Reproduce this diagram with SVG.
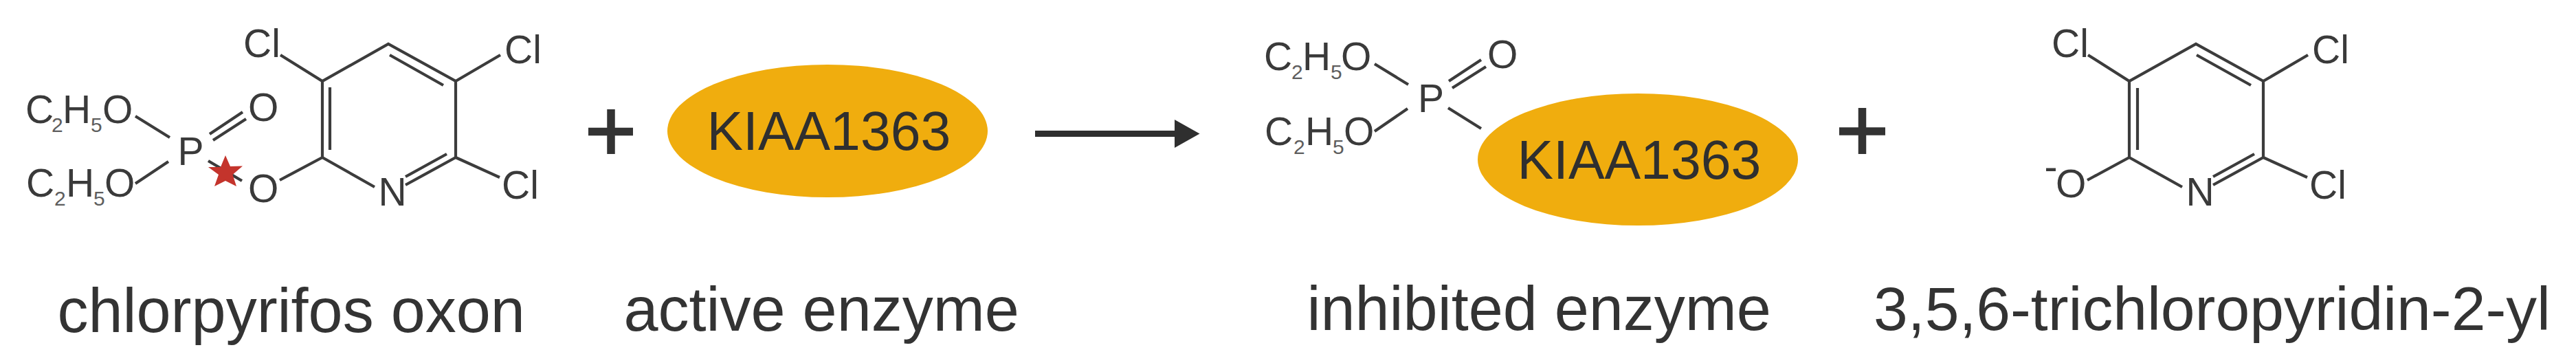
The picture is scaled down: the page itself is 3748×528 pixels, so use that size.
<svg xmlns="http://www.w3.org/2000/svg" width="3748" height="528" viewBox="0 0 3748 528">
<style>
text{font-family:"Liberation Sans",Arial,sans-serif;fill:#333}
.cap{font-size:90px}
.at{font-size:57px;fill:#3a3a3a}
.sub{font-size:30px;fill:#5e5e5e}
.enz{font-size:78.8px;fill:#2f2f2f}
.b{stroke:#3c3c3c;stroke-width:4.2;fill:none;stroke-linecap:butt;stroke-linejoin:miter}
.e{fill:#f0ad0e}
.plus{stroke:#333;stroke-width:11.5;fill:none}
</style>
<defs>
<marker id="head" markerUnits="userSpaceOnUse" markerWidth="37" markerHeight="42" refX="0" refY="21" orient="auto"><path d="M0 0.5L36.5 21L0 41.5Z" fill="#2f2f2f"/></marker>
</defs>
<rect width="3748" height="528" fill="#fff"/>
<g id="connectors">
<line x1="1506" y1="194.5" x2="1709" y2="194.5" stroke="#2f2f2f" stroke-width="9" marker-end="url(#head)"/>
</g>
<g id="chlorpyrifos-oxon">
<path class="b" d="M408 80L469 118L565 64L663 118V229M663 118L728 80M663 229L727 258M663 229L590 269M650 224L590 257M567 80L645 124M469 118V229M480 127V218M469 229L545 272M469 229L407 262M197 169L247 200M197 267L245 235M305 195L353 163M310 204L358 173M303 234L352 263"/>
<text class="at" x="354" y="83">Cl</text>
<text class="at" x="734" y="92">Cl</text>
<text class="at" x="730" y="289">Cl</text>
<text class="at" x="550.5" y="299">N</text>
<text class="at" x="258.5" y="240">P</text>
<text class="at" x="361" y="176">O</text>
<text class="at" x="361" y="294">O</text>
<text class="at" x="37" y="179">C</text><text class="sub" x="75" y="192">2</text><text class="at" x="91" y="179">H</text><text class="sub" x="132" y="192">5</text><text class="at" x="149" y="179">O</text>
<text class="at" x="38" y="286">C</text><text class="sub" x="79" y="299">2</text><text class="at" x="96" y="286">H</text><text class="sub" x="136" y="299">5</text><text class="at" x="152" y="286">O</text>
<path d="M328 226L335 242L353 241.5L338.5 254L344 271L328 263L312 271L318 254L303 243L321 243Z" fill="#c4342c"/>
<text class="cap" x="83.5" y="483">chlorpyrifos oxon</text>
</g>
<g id="plus-1"><path class="plus" d="M856 191.5H921M889 159V224"/></g>
<g id="active-enzyme">
<ellipse class="e" cx="1204" cy="190.5" rx="233" ry="96.5"/>
<text class="enz" x="1028.5" y="218">KIAA1363</text>
<text class="cap" x="907.5" y="481">active enzyme</text>
</g>
<g id="inhibited-enzyme">
<path class="b" d="M2000 93L2049 123M2000 191L2048 158M2107 157L2155 187M2108 118L2155 87M2113 128L2162 97"/>
<text class="at" x="2063" y="163">P</text>
<text class="at" x="2164" y="99">O</text>
<text class="at" x="1839" y="102">C</text><text class="sub" x="1879" y="115">2</text><text class="at" x="1895" y="102">H</text><text class="sub" x="1936" y="115">5</text><text class="at" x="1951" y="102">O</text>
<text class="at" x="1840" y="211">C</text><text class="sub" x="1882" y="224">2</text><text class="at" x="1899" y="211">H</text><text class="sub" x="1939" y="224">5</text><text class="at" x="1955" y="211">O</text>
<ellipse class="e" cx="2383" cy="232" rx="233" ry="96"/>
<text class="enz" x="2207.5" y="260">KIAA1363</text>
<text class="cap" x="1901.5" y="480">inhibited enzyme</text>
</g>
<g id="plus-2"><path class="plus" d="M2676 191H2743M2709.5 157V224"/></g>
<g id="trichloropyridinol">
<path class="b" d="M3038 80L3098 118L3195 64L3293 118V229M3293 118L3358 80M3293 229L3357 258M3293 229L3220 269M3280 224L3220 257M3196 80L3275 124M3098 118V229M3110 128V218M3098 229L3175 272M3098 229L3037 262"/>
<text class="at" x="2985" y="83">Cl</text>
<text class="at" x="3364" y="92">Cl</text>
<text class="at" x="3360" y="289">Cl</text>
<text class="at" x="3180.5" y="299">N</text>
<text class="at" x="2991" y="287">O</text>
<text class="at" x="2974.5" y="262">-</text>
<text class="cap" x="2726" y="480" style="font-size:89.5px">3,5,6-trichloropyridin-2-yl</text>
</g>
</svg>
